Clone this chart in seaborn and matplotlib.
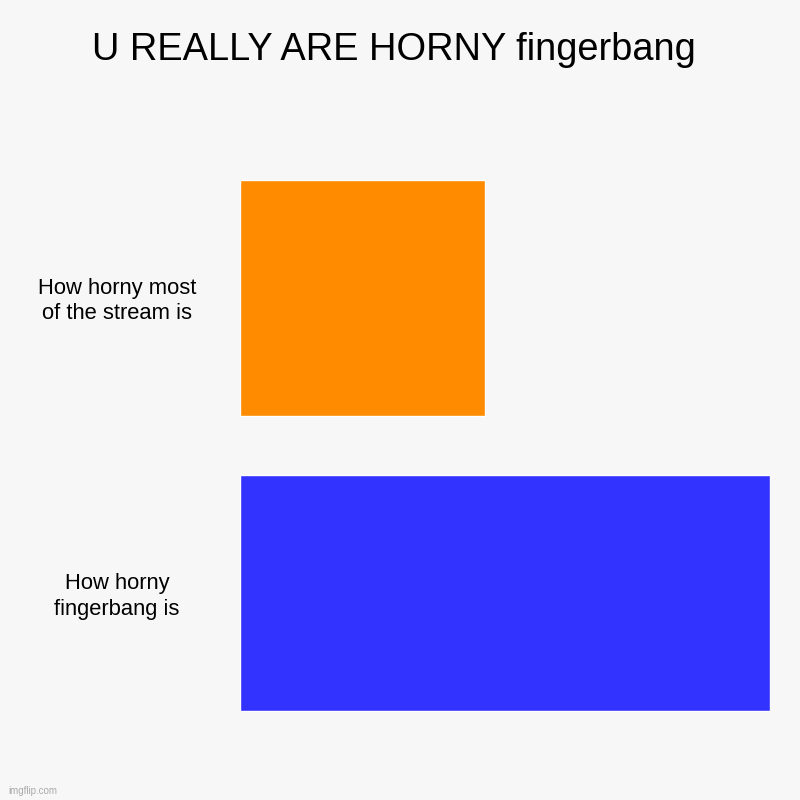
import matplotlib
matplotlib.use("Agg")
from matplotlib import pyplot as plt
import pandas as pd
import seaborn as sns

categories = ["How horny most\nof the stream is", "How horny\nfingerbang is"]
values = [4.62, 10]
colors = ["#ff8c00", "#3333ff"]

bg = "#f7f7f7"
sns.set_style("white")
plt.rcParams["font.family"] = ["Liberation Sans", "DejaVu Sans"]
plt.rcParams["text.color"] = "black"

df = pd.DataFrame({"label": categories, "value": values})

fig = plt.figure(figsize=(8, 8), dpi=100, facecolor=bg)
ax = fig.add_axes([0.3, 0.075, 0.6625, 0.7375])
ax.set_facecolor(bg)

sns.barplot(data=df, y="label", x="value", hue="label", palette=colors,
            orient="h", width=0.8, legend=False, ax=ax, saturation=1)

ax.set_xlim(0, max(values))
ax.set_ylim(1.5, -0.5)
ax.set_xlabel("")
ax.set_ylabel("")
ax.set_xticks([])
ax.set_yticks([])
sns.despine(ax=ax, left=True, bottom=True)

# category labels to the left of the bars
for i, lab in enumerate(categories):
    y_fig = 0.075 + 0.7375 * (1.5 - i) / 2 - 4 / 800
    fig.text(117 / 800, y_fig, lab, ha="center", va="center",
             fontsize=15.8, linespacing=1.25, color="black")

fig.text(0.4925, 0.937, "U REALLY ARE HORNY fingerbang", ha="center", va="center",
         fontsize=27.4, color="black")
fig.text(0.01, 0.011, "imgflip.com", ha="left", va="center", fontsize=7,
         color="#aaaaaa")

plt.savefig("out.png", dpi=100, facecolor=bg)
